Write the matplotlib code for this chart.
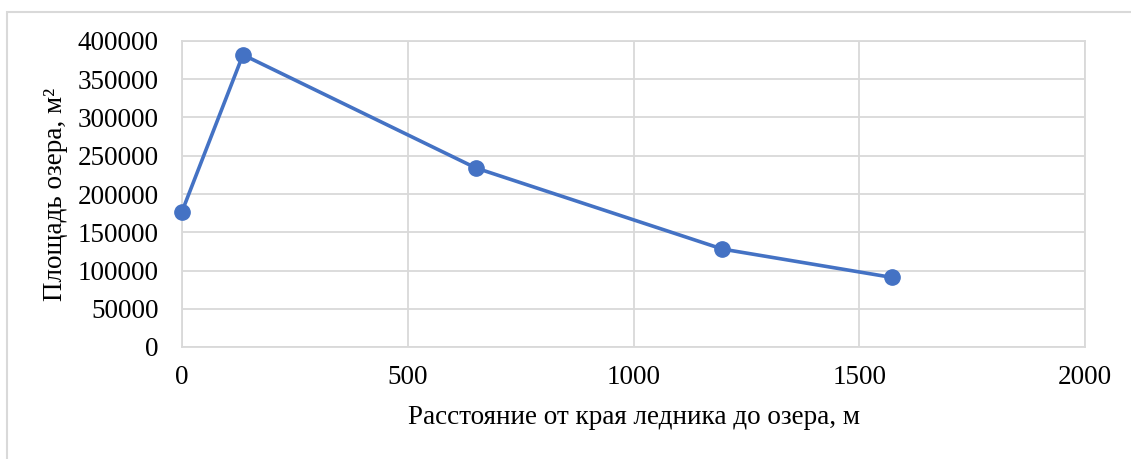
import matplotlib
matplotlib.use("Agg")
import matplotlib.pyplot as plt
from matplotlib.patches import Rectangle

# Distance from the glacier edge to the lake (m) and lake area (m²)
distance_m = [0, 135, 651, 1197, 1572]
area_m2 = [177000, 382000, 234000, 128000, 91000]

x_ticks = [0, 500, 1000, 1500, 2000]
y_ticks = [0, 50000, 100000, 150000, 200000, 250000, 300000, 350000, 400000]

x_label = "Расстояние от края ледника до озера, м"
y_label = "Площадь озера, м²"

plt.rcParams["font.family"] = ["Liberation Serif", "DejaVu Serif"]

W, H = 1131, 459
FS = 19.5
fig = plt.figure(figsize=(W / 100, H / 100), dpi=100)
fig.patch.set_facecolor("white")

# outer chart frame
frame = Rectangle((7 / W, -0.05), 1.2, (H - 12) / H + 0.05, transform=fig.transFigure,
                  fill=False, edgecolor="#d9d9d9", linewidth=1.5)
fig.patches.append(frame)

left, right, top, bottom = 182 / W, 1085 / W, 41 / H, 347 / H
ax = fig.add_axes([left, 1 - bottom, right - left, bottom - top])

grid_c = "#d9d9d9"
ax.set_xlim(0, 2000)
ax.set_ylim(0, 400000)
ax.set_xticks(x_ticks)
ax.set_yticks(y_ticks)
ax.set_xticklabels([str(v) for v in x_ticks])
ax.set_yticklabels([str(v) for v in y_ticks])
ax.grid(True, color=grid_c, linewidth=1.3)
ax.set_axisbelow(True)
for s in ax.spines.values():
    s.set_color(grid_c)
    s.set_linewidth(1.3)
ax.tick_params(axis="both", length=0, labelsize=FS, colors="black")
ax.tick_params(axis="y", pad=17)
ax.tick_params(axis="x", pad=13)

ax.plot(distance_m, area_m2, color="#4472C4", linewidth=2.6,
        marker="o", markersize=11, markerfacecolor="#4472C4",
        markeredgecolor="#4472C4", clip_on=False, zorder=3)

fig.text((182 + 1085) / 2 / W, 1 - 418 / H, x_label, ha="center", va="center", fontsize=FS)
fig.text(56 / W, 1 - 194 / H, y_label, ha="center", va="center", rotation=90, fontsize=FS)

fig.savefig("out.png", dpi=100, facecolor="white")
